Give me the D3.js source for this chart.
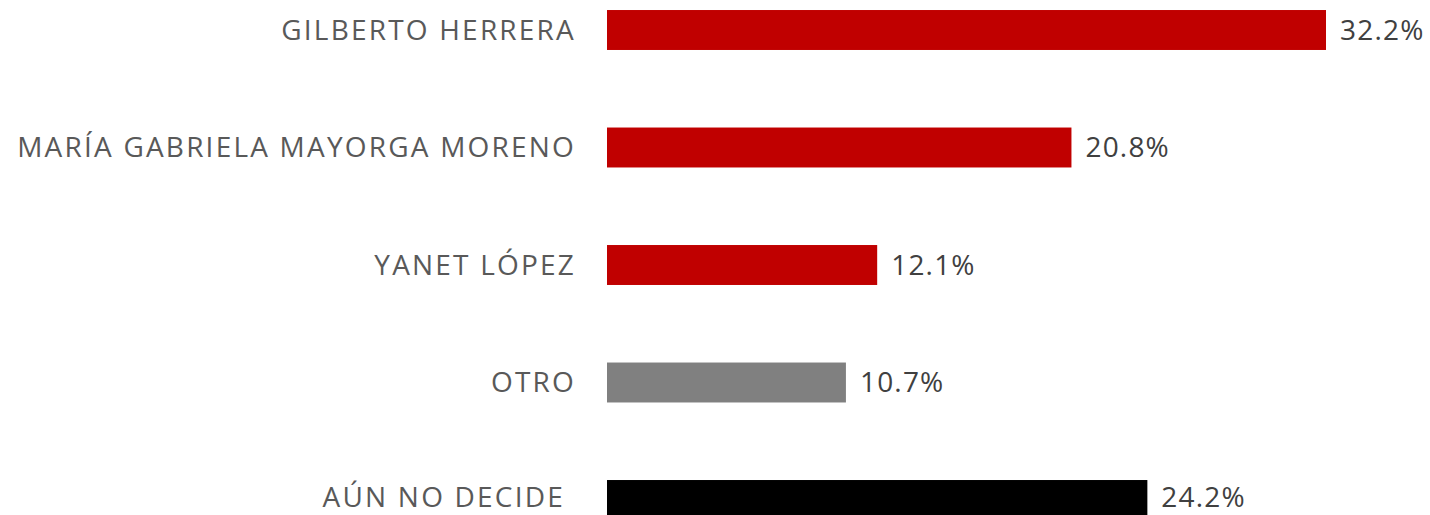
<!DOCTYPE html>
<html>
<head>
<meta charset="utf-8">
<script src="https://cdn.jsdelivr.net/npm/d3@7"></script>
<style>
  body { margin: 0; background: #fff; }
  text { font-family: "Open Sans", sans-serif; }
</style>
</head>
<body>
<div id="chart"></div>
<script>
var svgWidth = 1430;
var svgHeight = 515;

// data
var candidates = ["GILBERTO HERRERA", "MARÍA GABRIELA MAYORGA MORENO", "YANET LÓPEZ", "OTRO", "AÚN NO DECIDE"];
var shares = [32.2, 20.8, 12.1, 10.7, 24.2];
var barColors = ["#c00000", "#c00000", "#c00000", "#808080", "#000000"];

var svg = d3.select("#chart")
    .append("svg")
    .attr("width", svgWidth)
    .attr("height", svgHeight);

var x = d3.scaleLinear()
    .domain([0, 32.2])
    .range([607, 1326]);

var y = d3.scaleBand()
    .domain(candidates)
    .range([-28.75, 558.75])
    .paddingInner(0.66)
    .paddingOuter(0.33);

// last row sits at the bottom edge, its labels are nudged up a little
function labelY(d, i) {
    return y(d) + y.bandwidth() / 2 - (i === 4 ? 3 : 0);
}

var rows = svg.selectAll("g.row")
    .data(candidates)
    .enter()
    .append("g")
    .attr("class", "row");

// bars
rows.append("rect")
    .attr("x", x(0))
    .attr("y", d => y(d))
    .attr("width", (d, i) => x(shares[i]) - x(0))
    .attr("height", y.bandwidth())
    .attr("fill", (d, i) => barColors[i]);

// category labels (letter-spacing widens them to the reference's look)
rows.append("text")
    .attr("x", (d, i) => i === 4 ? 565 : 576)
    .attr("y", labelY)
    .attr("dy", "0.35em")
    .attr("text-anchor", "end")
    .attr("font-size", 28)
    .attr("letter-spacing", 2.2)
    .attr("fill", "#595959")
    .text(d => d);

// value labels
rows.append("text")
    .attr("x", (d, i) => x(shares[i]) + 14)
    .attr("y", labelY)
    .attr("dy", "0.35em")
    .attr("font-size", 28)
    .attr("letter-spacing", 1.2)
    .attr("fill", "#404040")
    .text((d, i) => shares[i].toFixed(1) + "%");
</script>
</body>
</html>
